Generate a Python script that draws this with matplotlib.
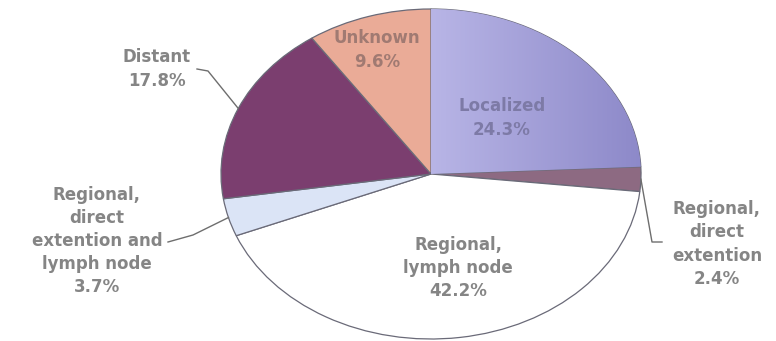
import matplotlib
matplotlib.use("Agg")
import matplotlib.pyplot as plt
import numpy as np
from matplotlib.colors import LinearSegmentedColormap

# Stage distribution, clockwise from 12 o'clock
stages = ["Localized", "Regional,\ndirect\nextention", "Regional,\nlymph node",
          "Regional,\ndirect\nextention and\nlymph node", "Distant", "Unknown"]
shares = [24.3, 2.4, 42.2, 3.7, 17.8, 9.6]
colors = ["#a7a3da", "#8d6a82", "#ffffff", "#dbe4f6", "#7b3e6f", "#eaab97"]

W, H = 776, 341
fig = plt.figure(figsize=(W / 100, H / 100), dpi=100)
fig.patch.set_facecolor("white")

# elliptical (tilted) pie: centre and radii in pixels, y measured from the top
cx, cy, rx, ry = 431, 174, 210, 165
ax = fig.add_axes([(cx - rx) / W, (H - cy - ry) / H, 2 * rx / W, 2 * ry / H])

wedges, _ = ax.pie(shares, colors=colors, startangle=90, counterclock=False,
                   radius=1, wedgeprops=dict(edgecolor="#6a6a78", linewidth=0.9))

# soft left-to-right shading on the Localized slice
grad = np.linspace(0, 1, 256)[None, :]
cmap = LinearSegmentedColormap.from_list("loc", ["#b8b5e6", "#8d89c9"])
im = ax.imshow(grad, extent=(0, 1, -0.1, 1), cmap=cmap, aspect="auto", zorder=1.5)
im.set_clip_path(wedges[0])

ax.set_aspect("auto")
ax.set_xlim(-1, 1)
ax.set_ylim(-1, 1)
ax.axis("off")


def to_data(x, y):
    return (x - cx) / rx, (cy - y) / ry


def edge_point(w):
    mid = np.deg2rad((w.theta1 + w.theta2) / 2)
    return np.cos(mid), np.sin(mid)


txt = dict(fontsize=12, fontweight="bold", ha="center", va="center",
           linespacing=1.36, clip_on=False, family="DejaVu Sans")
grey = "#858585"

# label block centres in pixels
label_pos = [(502, 118), (717, 244), (458, 268), (97, 241), (157, 69), (377, 50)]
label_col = ["#7d7aa6", grey, grey, grey, grey, "#a07a72"]
for name, share, (lx, ly), col in zip(stages, shares, label_pos, label_col):
    x, y = to_data(lx, ly)
    ax.text(x, y, f"{name}\n{share}%", color=col, zorder=5, **txt)

# leader lines from outside labels to their slices
line_kw = dict(color="#6e6e6e", lw=1.0, clip_on=False, zorder=4)
leaders = {
    4: [(197, 69), (208, 71)],
    3: [(168, 242), (193, 235)],
    1: [(662, 242), (652, 242)],
}
for idx, pts in leaders.items():
    xs, ys = zip(*[to_data(*p) for p in pts])
    ex, ey = edge_point(wedges[idx])
    ax.plot(list(xs) + [ex], list(ys) + [ey], **line_kw)

fig.savefig("out.png", dpi=100, facecolor="white")
